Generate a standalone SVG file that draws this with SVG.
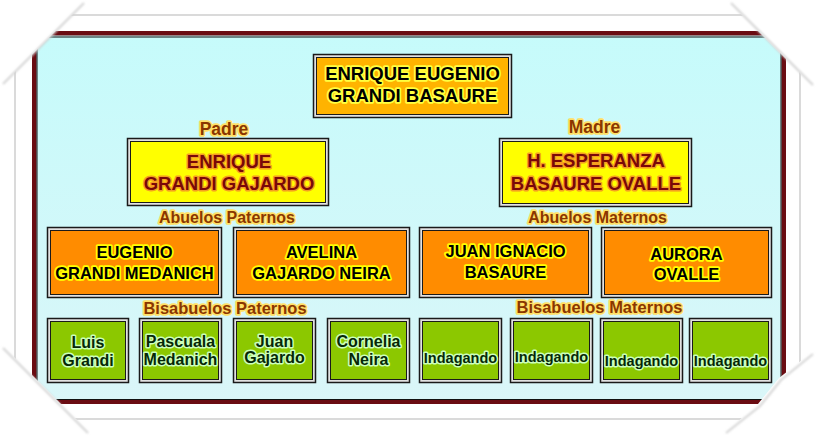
<svg xmlns="http://www.w3.org/2000/svg" width="816" height="436" viewBox="0 0 816 436">
<defs>
<linearGradient id="bg" x1="0" y1="0" x2="0" y2="1">
<stop offset="0" stop-color="#c6fbfb"/>
<stop offset="1" stop-color="#daf6f8"/>
</linearGradient>
<filter id="soft" x="-20%" y="-20%" width="140%" height="140%"><feGaussianBlur stdDeviation="1.2"/></filter>
<filter id="soft2" x="-20%" y="-20%" width="140%" height="140%"><feGaussianBlur stdDeviation="0.7"/></filter>
</defs>
<style>
text{font-family:"Liberation Sans",Arial,sans-serif;font-weight:bold;text-anchor:middle;paint-order:stroke;stroke-linejoin:round}
.outer{fill:#e2e2e2;stroke:#1a1a1a;stroke-width:1.5}
.inner{stroke:#1a1a1a;stroke-width:1}
.amber{fill:#ffb300}
.yellow{fill:#ffff00}
.orange{fill:#ff8c00}
.green{fill:#8cc800}
.t-top{font-size:18.5px;fill:#000;stroke:#ffff40;stroke-width:3.5}
.t-par{font-size:18.5px;fill:#7a0808;stroke:#f5a020;stroke-width:3}
.t-gp{font-size:16.5px;fill:#000;stroke:#ffff00;stroke-width:3.5}
.t-lab{fill:#8a3600;stroke:#ffe066;stroke-width:3.5}
.t-gr{font-size:16px;fill:#062806;stroke:#ccffbb;stroke-width:3}
.t-ind{font-size:14.5px;fill:#062806;stroke:#ccffbb;stroke-width:3}
.frame{fill:none;stroke:#dadada;stroke-width:2}
.fold{fill:#ffffff}
.shadow{fill:none;stroke:#d4d4d4;stroke-width:2}
</style>
<rect x="0" y="0" width="816" height="436" fill="#ffffff"/>
<rect class="frame" x="15" y="15" width="785" height="404" filter="url(#soft2)"/>
<g id="panel">
<rect x="34.25" y="33.25" width="749.5" height="368.5" fill="url(#bg)" stroke="#6a0c12" stroke-width="4.5"/>
<rect x="37" y="37" width="744" height="362.5" fill="none" stroke="#111" stroke-width="1"/>
</g>
<g id="connectors"></g>
<g id="labels">
<text class="t-lab" x="224" y="135" style="font-size:17.5px">Padre</text>
<text class="t-lab" x="594.5" y="133" style="font-size:17.5px">Madre</text>
<text class="t-lab" x="227" y="223" style="font-size:16px">Abuelos Paternos</text>
<text class="t-lab" x="597.5" y="223" style="font-size:16px">Abuelos Maternos</text>
<text class="t-lab" x="225" y="314" style="font-size:16.5px">Bisabuelos Paternos</text>
<text class="t-lab" x="599.5" y="313" style="font-size:16.5px">Bisabuelos Maternos</text>
</g>
<g id="node-enrique-eugenio">
<rect class="outer" x="313.5" y="54.5" width="198" height="63"/>
<rect class="inner amber" x="316.5" y="57.5" width="192" height="57"/>
<text class="t-top" x="412.5" y="80">ENRIQUE EUGENIO</text>
<text class="t-top" x="412.5" y="102">GRANDI BASAURE</text>
</g>
<g id="node-padre">
<rect class="outer" x="127.5" y="138.5" width="201" height="67"/>
<rect class="inner yellow" x="130.5" y="141.5" width="195" height="61"/>
<text class="t-par" x="229" y="168">ENRIQUE</text>
<text class="t-par" x="229" y="190">GRANDI GAJARDO</text>
</g>
<g id="node-madre">
<rect class="outer" x="499.5" y="138.5" width="192" height="68"/>
<rect class="inner yellow" x="502.5" y="141.5" width="186" height="62"/>
<text class="t-par" x="596" y="167">H. ESPERANZA</text>
<text class="t-par" x="596" y="190">BASAURE OVALLE</text>
</g>
<g id="node-eugenio">
<rect class="outer" x="47.5" y="227.5" width="174" height="70"/>
<rect class="inner orange" x="50.5" y="230.5" width="168" height="64"/>
<text class="t-gp" x="134.5" y="258">EUGENIO</text>
<text class="t-gp" x="134.5" y="279">GRANDI MEDANICH</text>
</g>
<g id="node-avelina">
<rect class="outer" x="233.5" y="227.5" width="176" height="70"/>
<rect class="inner orange" x="236.5" y="230.5" width="170" height="64"/>
<text class="t-gp" x="321.5" y="258">AVELINA</text>
<text class="t-gp" x="321.5" y="279">GAJARDO NEIRA</text>
</g>
<g id="node-juan-ignacio">
<rect class="outer" x="419.5" y="227.5" width="172" height="70"/>
<rect class="inner orange" x="422.5" y="230.5" width="166" height="64"/>
<text class="t-gp" x="505.5" y="257">JUAN IGNACIO</text>
<text class="t-gp" x="505.5" y="278">BASAURE</text>
</g>
<g id="node-aurora">
<rect class="outer" x="601.5" y="227.5" width="170" height="70"/>
<rect class="inner orange" x="604.5" y="230.5" width="164" height="64"/>
<text class="t-gp" x="686.5" y="259.5">AURORA</text>
<text class="t-gp" x="686.5" y="280">OVALLE</text>
</g>
<g id="node-luis">
<rect class="outer" x="47.5" y="318.5" width="81" height="64"/>
<rect class="inner green" x="50.5" y="321.5" width="75" height="58"/>
<text class="t-gr" x="88" y="348">Luis</text>
<text class="t-gr" x="88" y="366">Grandi</text>
</g>
<g id="node-pascuala">
<rect class="outer" x="139.5" y="318.5" width="82" height="64"/>
<rect class="inner green" x="142.5" y="321.5" width="76" height="58"/>
<text class="t-gr" x="180.5" y="347">Pascuala</text>
<text class="t-gr" x="180.5" y="365">Medanich</text>
</g>
<g id="node-juan">
<rect class="outer" x="233.5" y="318.5" width="82" height="64"/>
<rect class="inner green" x="236.5" y="321.5" width="76" height="58"/>
<text class="t-gr" x="274.5" y="347">Juan</text>
<text class="t-gr" x="274.5" y="363">Gajardo</text>
</g>
<g id="node-cornelia">
<rect class="outer" x="327.5" y="318.5" width="82" height="64"/>
<rect class="inner green" x="330.5" y="321.5" width="76" height="58"/>
<text class="t-gr" x="368.5" y="347">Cornelia</text>
<text class="t-gr" x="368.5" y="365">Neira</text>
</g>
<g id="node-indagando-1">
<rect class="outer" x="419.5" y="318.5" width="82" height="64"/>
<rect class="inner green" x="422.5" y="321.5" width="76" height="58"/>
<text class="t-ind" x="460.5" y="363">Indagando</text>
</g>
<g id="node-indagando-2">
<rect class="outer" x="510.5" y="318.5" width="82" height="64"/>
<rect class="inner green" x="513.5" y="321.5" width="76" height="58"/>
<text class="t-ind" x="551.5" y="362">Indagando</text>
</g>
<g id="node-indagando-3">
<rect class="outer" x="600.5" y="318.5" width="82" height="64"/>
<rect class="inner green" x="603.5" y="321.5" width="76" height="58"/>
<text class="t-ind" x="641.5" y="366">Indagando</text>
</g>
<g id="node-indagando-4">
<rect class="outer" x="689.5" y="318.5" width="82" height="64"/>
<rect class="inner green" x="692.5" y="321.5" width="76" height="58"/>
<text class="t-ind" x="730.5" y="366">Indagando</text>
</g>
<g id="folds">
<polygon class="fold" points="0,0 87,0 0,87"/>
<line class="shadow" x1="3" y1="84" x2="84" y2="3" filter="url(#soft)"/>
<polygon class="fold" points="727,0 816,0 816,89"/>
<line class="shadow" x1="731" y1="3" x2="813" y2="85" filter="url(#soft)"/>
<polygon class="fold" points="0,343 0,436 93,436"/>
<line class="shadow" x1="3" y1="348" x2="88" y2="433" filter="url(#soft)"/>
<polygon class="fold" points="816,349 779,378 758,404 721,436 816,436"/>
<polyline class="shadow" points="813,354 781,380 760,406 726,433" filter="url(#soft)"/>
</g>
</svg>
